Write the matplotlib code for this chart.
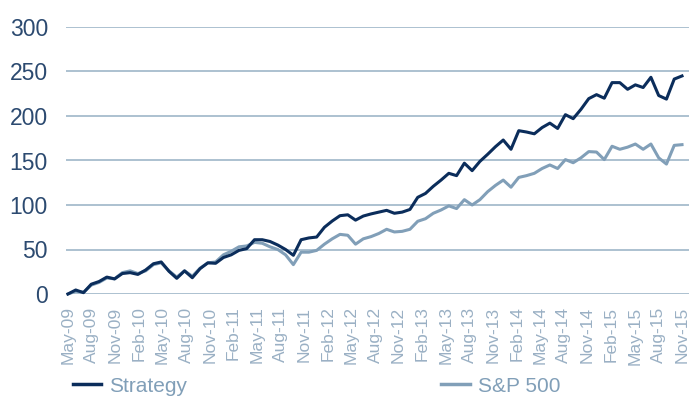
"""
Strategy vs S&P 500 cumulative return (%)
"""
import numpy as np
import pandas as pd
import matplotlib
matplotlib.use("Agg")
import matplotlib.pyplot as plt
from matplotlib.lines import Line2D

plt.rcParams["font.family"] = ["Liberation Sans", "DejaVu Sans"]

# monthly cumulative return (%), first point is the base
strategy = [0, 4.5, 1.5, 11, 14, 19, 17, 23, 24, 22,
            27, 34, 36, 25.5, 17.6, 26, 18.3, 28.5, 35, 34.5,
            41, 44, 49, 51, 61, 61, 59, 55, 50, 43.5,
            61, 63, 64, 75, 82, 88, 89, 83, 87.6, 90,
            92, 94, 90.7, 92, 95, 108.6, 113, 121, 128, 135.6,
            133, 147, 138.6, 149, 157, 165.5, 173, 162.6, 183.5, 182,
            180, 187, 192, 186, 201.5, 197, 207.5, 219.5, 224, 220,
            237.5, 237.5, 230, 235, 232, 243.5, 223, 219, 241.5, 245]

sp500 = [0, 3, 2, 10, 13, 18, 17, 24, 26, 23,
         26, 33, 35, 26, 19, 26, 20, 29, 35, 36,
         44, 48, 53, 54, 58, 57, 53, 50, 44, 33,
         47, 47, 49, 56, 62, 67, 66, 56, 62, 64.5,
         68, 72.7, 69.7, 70.4, 72.7, 81.7, 84.6, 90.7, 94.4, 99,
         96, 106, 100, 106, 115, 122, 128, 120, 131, 133,
         135.6, 141, 145, 141, 151, 147.5, 153, 160, 159.5, 151,
         166, 162.6, 165, 168.5, 162.6, 168.5, 153, 146, 167, 167.8]

tick_labels = pd.date_range("2009-05-01", "2015-11-01", freq="3MS").strftime("%b-%y").tolist()
y_ticks = [0, 50, 100, 150, 200, 250, 300]

NAVY = "#0b2d5b"
STEEL = "#819fb8"
GRID = "#a6bccd"
YLAB = "#2c4a70"
XLAB = "#9ab0c4"

fig = plt.figure(figsize=(6.89, 4.01), dpi=100)
ax = fig.add_axes([66 / 689, (401 - 294) / 401, 1 - 66 / 689, (294 - 27) / 401])

x = np.arange(len(strategy))
ax.plot(x, sp500, color=STEEL, linewidth=2.2, clip_on=False, zorder=3)
ax.plot(x, strategy, color=NAVY, linewidth=2.2, clip_on=False, zorder=4)

ax.set_xlim(-0.25, len(strategy) - 1 + 0.9)
ax.set_ylim(0, 300)
ax.set_yticks(y_ticks)
ax.set_yticklabels([str(v) for v in y_ticks], fontsize=16.5, color=YLAB)
ax.yaxis.grid(True, color=GRID, linewidth=1.3)
ax.set_axisbelow(True)

ax.set_xticks(np.linspace(0, len(strategy) - 1, len(tick_labels)))
ax.set_xticklabels(tick_labels, rotation=90, fontsize=12.5, color=XLAB)

ax.tick_params(axis="y", length=0, pad=13)
ax.tick_params(axis="x", length=0, pad=9)
for s in ax.spines.values():
    s.set_visible(False)

handles = [Line2D([], [], color=NAVY, linewidth=2.5),
           Line2D([], [], color=STEEL, linewidth=2.5)]
leg = fig.legend(handles, ["Strategy", "S&P 500"], ncol=2, loc="center left",
                 bbox_to_anchor=(54 / 689, 1 - 386 / 401), frameon=False,
                 fontsize=15, handlelength=1.35, handletextpad=0.4,
                 columnspacing=12.2, labelcolor=STEEL)

fig.savefig("out.png", dpi=100)
plt.close(fig)
